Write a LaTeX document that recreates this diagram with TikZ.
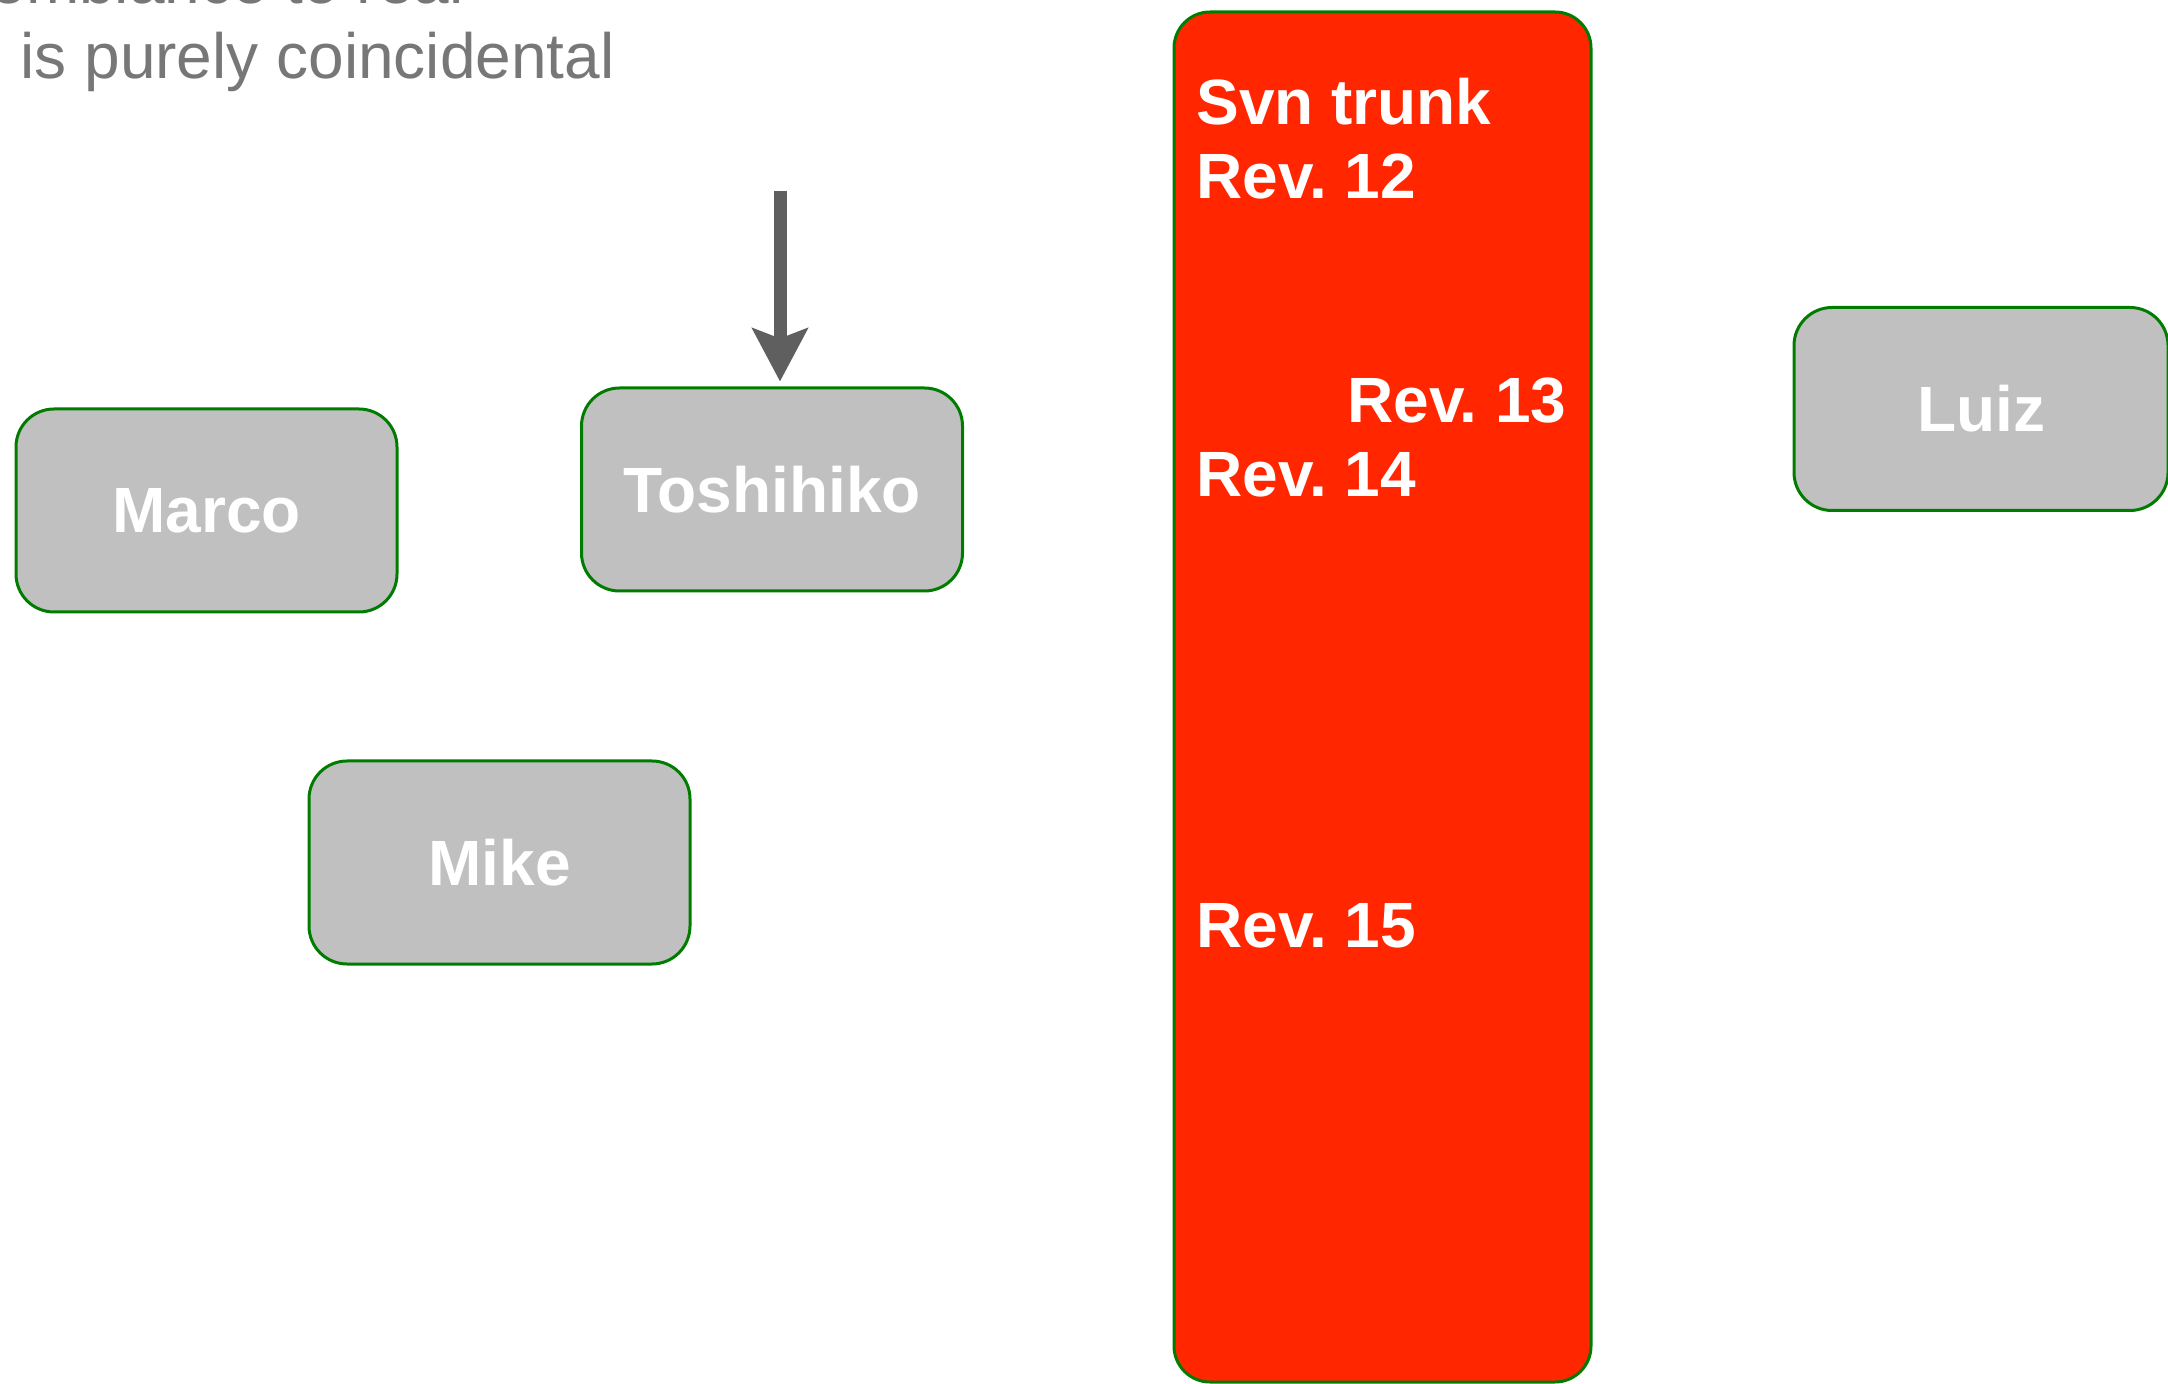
\documentclass[tikz,border=0pt]{standalone}
\usepackage{fontspec}
\setmainfont{Liberation Sans}
\usetikzlibrary{arrows.meta}
\definecolor{G}{RGB}{0,125,0}
\definecolor{R}{RGB}{255,38,0}
\definecolor{S}{RGB}{192,192,192}
\definecolor{A}{RGB}{95,95,95}
\definecolor{N}{RGB}{119,119,119}
\def\Xscale{2168}
\def\Yscale{1384}
\def\Slidefont{\fontsize{32}{37}\selectfont\frenchspacing}

\begin{document}
\begin{tikzpicture}[x=0.5pt,y=-0.5pt,
    person/.style={draw=G,line width=1.5pt,fill=S,rounded corners=19pt,minimum width=190.5pt,minimum height=101.5pt,text=white,font=\Slidefont\bfseries},
    revtext/.style={text=white,inner sep=0pt,font=\Slidefont\bfseries}]
    \path[use as bounding box] (0,0) rectangle (\Xscale,\Yscale);
    \clip (0,0) rectangle (\Xscale,\Yscale);
    \node[N,anchor=base east,inner sep=0pt,font=\Slidefont] (note1) at (464,4) {emblance to real};
    \node[N,anchor=base east,inner sep=0pt,font=\Slidefont] (note2) at (615,79) {s is purely coincidental};
    \foreach \who/\X/\Y in {Marco/206.5/510.5,Toshihiko/772/489.5,Mike/499.5/862.5} {
        \node[person] (\who) at (\X,\Y) {\who};
    }
    \node[person,minimum width=187pt] (Luiz) at (1981,409) {Luiz};
    \coordinate (push) at (780,191);
    \draw[A,line width=6.5pt,-{Stealth[length=26.5pt,width=27.5pt,inset=5pt]},shorten >=2.5pt] (push) -- (push |- Toshihiko.north);
    \node[draw=G,line width=1.5pt,fill=R,rounded corners=18pt,minimum width=208.5pt,minimum height=685pt,inner sep=0pt] (trunk) at (1382.5,697) {};
    \node[revtext,anchor=base west] (svn) at (1196,125) {Svn trunk};
    \node[revtext,anchor=base west] (r12) at (1196,199) {Rev. 12};
    \node[revtext,anchor=base east] (r13) at (1567,423) {Rev. 13};
    \node[revtext,anchor=base west] (r14) at (1196,497) {Rev. 14};
    \node[revtext,anchor=base west] (r15) at (1196,947) {Rev. 15};
\end{tikzpicture}
\end{document}
